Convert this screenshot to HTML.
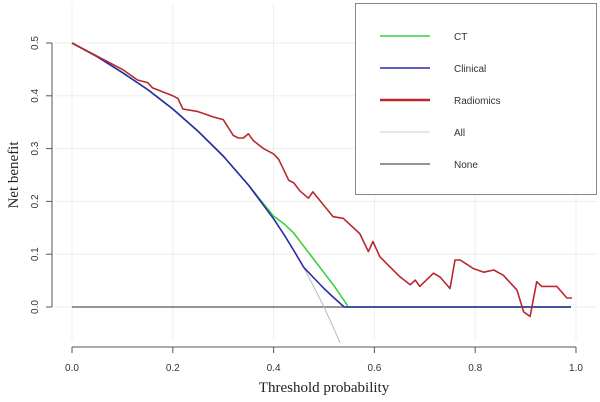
<!DOCTYPE html>
<html><head><meta charset="utf-8">
<style>
html,body{margin:0;padding:0;background:#fff;}
svg{display:block;}
text{font-family:"Liberation Sans",sans-serif;fill:#333;}
.serif{font-family:"Liberation Serif",serif;fill:#222;}
</style></head>
<body>
<svg id="chart" width="600" height="402" viewBox="0 0 600 402"></svg>
<script>
const xTicks=[0,0.2,0.4,0.6,0.8,1.0];
const xTickLabels=["0.0","0.2","0.4","0.6","0.8","1.0"];
const yTicks=[0,0.1,0.2,0.3,0.4,0.5];
const yTickLabels=["0.0","0.1","0.2","0.3","0.4","0.5"];
const radiomicsX=[0,0.05,0.1,0.13,0.15,0.16,0.2,0.21,0.22,0.25,0.28,0.3,0.31,0.32,0.33,0.34,0.35,0.36,0.38,0.4,0.41,0.42,0.43,0.44,0.452,0.469,0.478,0.518,0.538,0.571,0.588,0.597,0.611,0.631,0.651,0.671,0.681,0.69,0.717,0.73,0.75,0.76,0.77,0.78,0.796,0.817,0.837,0.856,0.883,0.896,0.909,0.922,0.932,0.962,0.982,0.992];
const radiomicsY=[0.5,0.475,0.45,0.43,0.425,0.415,0.4,0.395,0.375,0.37,0.36,0.355,0.34,0.325,0.32,0.32,0.328,0.315,0.3,0.29,0.28,0.26,0.24,0.235,0.22,0.206,0.218,0.171,0.168,0.139,0.105,0.124,0.095,0.076,0.057,0.042,0.051,0.039,0.064,0.057,0.035,0.089,0.089,0.083,0.073,0.066,0.07,0.06,0.032,-0.009,-0.018,0.048,0.039,0.039,0.017,0.017];
const clinicalX=[0,0.05,0.1,0.15,0.2,0.25,0.3,0.35,0.4,0.42,0.44,0.46,0.48,0.5,0.52,0.54,0.99];
const clinicalY=[0.5,0.474,0.444,0.412,0.375,0.333,0.286,0.231,0.167,0.138,0.107,0.075,0.055,0.035,0.017,0,0];
const ctX=[0,0.05,0.1,0.15,0.2,0.25,0.3,0.35,0.4,0.42,0.44,0.46,0.48,0.5,0.52,0.54,0.548,0.99];
const ctY=[0.5,0.474,0.444,0.412,0.375,0.333,0.286,0.231,0.172,0.158,0.14,0.115,0.09,0.065,0.04,0.012,0,0];
const allX=[0.4,0.42,0.44,0.46,0.48,0.5,0.52,0.532];
const allY=[0.167,0.138,0.107,0.074,0.038,0,-0.042,-0.068];
const noneX=[0,0.99];
const noneY=[0,0];

const svg=document.getElementById('chart');
const NS='http://www.w3.org/2000/svg';
const X=v=>72+v*504;
const Y=v=>307-v*528;
function el(tag,attrs,txt){const e=document.createElementNS(NS,tag);for(const k in attrs)e.setAttribute(k,attrs[k]);if(txt!==undefined)e.textContent=txt;svg.appendChild(e);return e;}

xTicks.forEach(t=>{const g=el('line',{x1:X(t),x2:X(t),y1:3,y2:340,stroke:'#eee','stroke-width':1});

});
yTicks.forEach(t=>{const g=el('line',{x1:55,x2:597,y1:Y(t),y2:Y(t),stroke:'#eee','stroke-width':1});

});

const ya=el('line',{x1:52,x2:52,y1:Y(0.5),y2:Y(0),stroke:'#555','stroke-width':1});


const xa=el('line',{x1:X(0),x2:X(1),y1:347,y2:347,stroke:'#555','stroke-width':1});


yTicks.forEach((t,i)=>{el('line',{x1:46,x2:52,y1:Y(t),y2:Y(t),stroke:'#555'});
const tx=el('text',{x:0,y:0,'font-size':10,'text-anchor':'middle',transform:`translate(38,${Y(t)}) rotate(-90)`},yTickLabels[i]);

});
xTicks.forEach((t,i)=>{el('line',{x1:X(t),x2:X(t),y1:347,y2:353,stroke:'#555'});
const tx=el('text',{x:X(t),y:371,'font-size':10,'text-anchor':'middle'},xTickLabels[i]);

});

const xt=el('text',{x:X(0.5),y:392,'font-size':15,'text-anchor':'middle',class:'serif'},'Threshold probability');


const yt=el('text',{x:0,y:0,'font-size':15,'text-anchor':'middle',class:'serif',transform:'translate(18,175) rotate(-90)'},'Net  benefit');



function series(xs,ys,color,w,name){const d=xs.map((x,i)=>(i?'L':'M')+X(x).toFixed(1)+','+Y(ys[i]).toFixed(1)).join('');
const p=el('path',{d:d,fill:'none',stroke:color,'stroke-width':w,'stroke-linejoin':'round'});

}
series(noneX,noneY,'#555',1.2,'none-line');
series(allX,allY,'#bbb',1,'all-line');
series(ctX,ctY,'#3ad13a',1.6,'ct-line');
series(clinicalX,clinicalY,'#2a2aa8',1.6,'clinical-line');
series(radiomicsX,radiomicsY,'#b8282e',1.6,'radiomics-line');

const lb=el('rect',{x:355.5,y:3.5,width:241,height:191,fill:'#fff',stroke:'#888','stroke-width':1});


const legNames=['CT','Clinical','Radiomics','All','None'];
const legColors=['#3ad13a','#2a2aa8','#b8282e','#ccc','#555'];
const legW=[1.5,1.5,2.5,1,1.2];
legNames.forEach((n,i)=>{const yy=36+i*32;
const l=el('line',{x1:380,x2:430,y1:yy,y2:yy,stroke:legColors[i],'stroke-width':legW[i]});


const t=el('text',{x:454,y:yy+4,'font-size':10},n);

});
</script>
</body></html>
